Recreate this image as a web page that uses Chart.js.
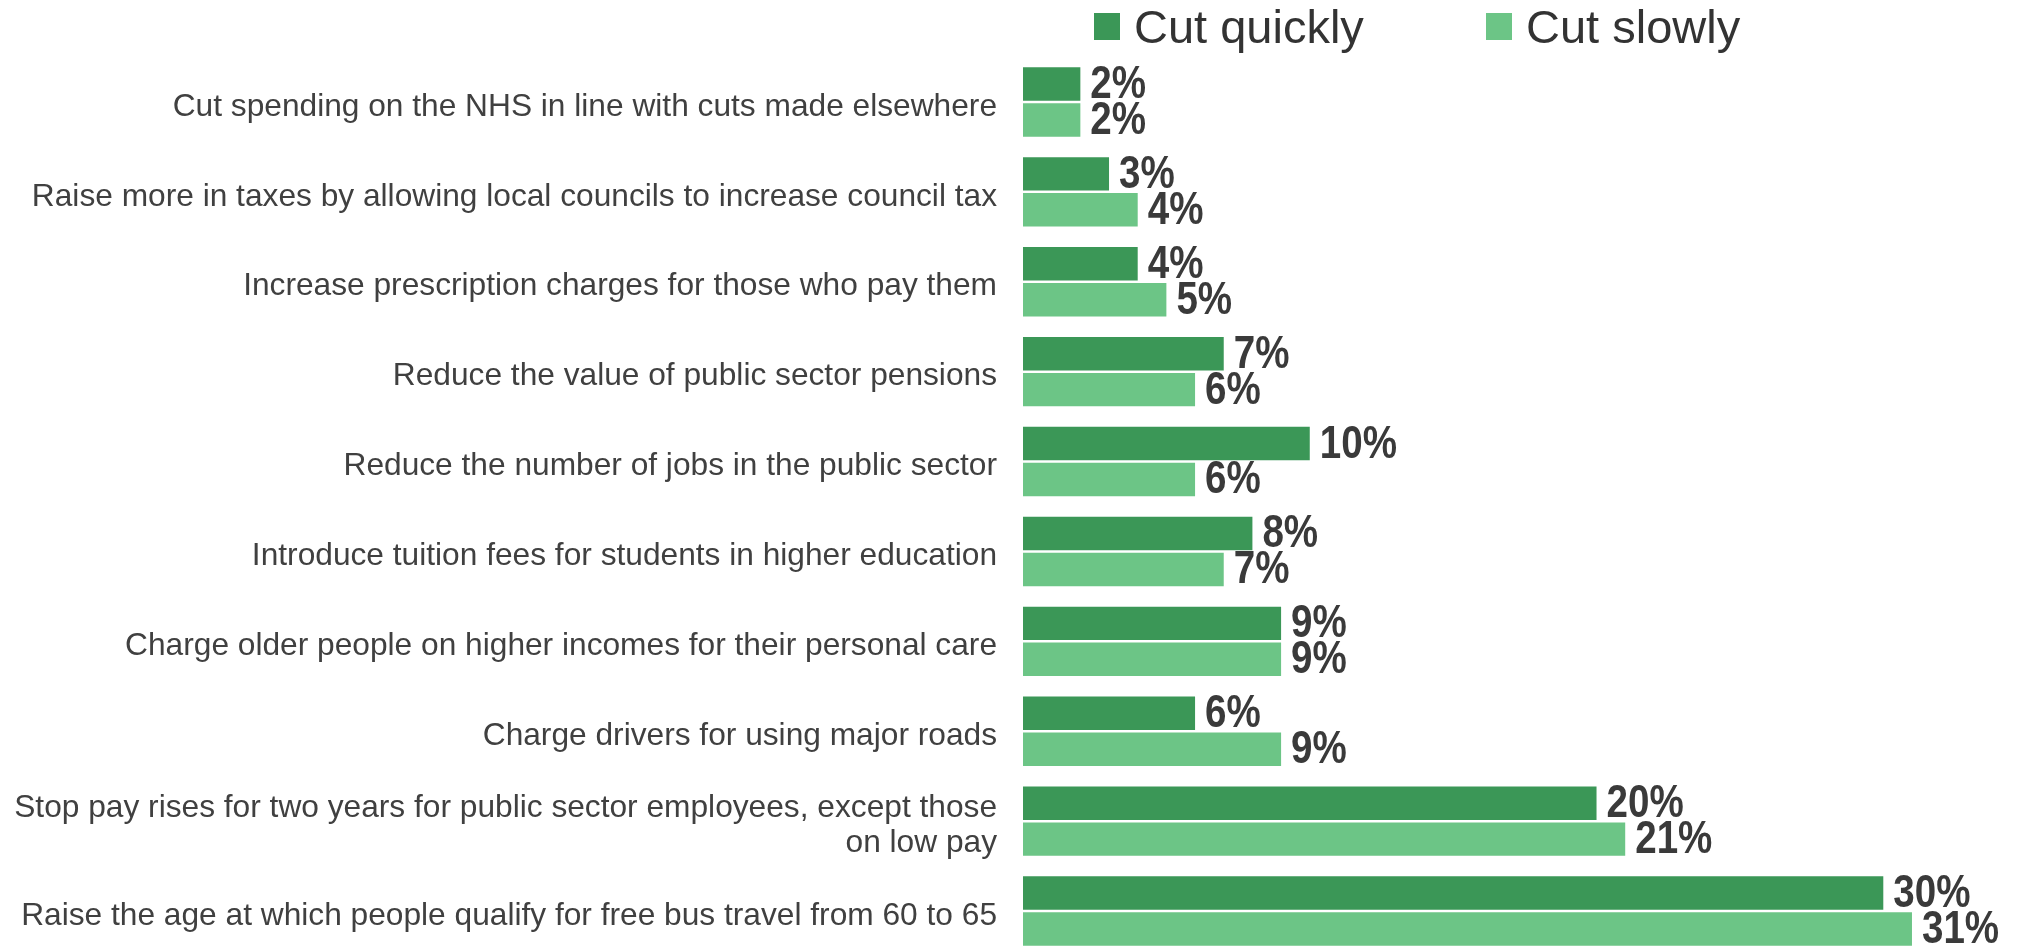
<!DOCTYPE html>
<html>
<head>
<meta charset="utf-8">
<script src="https://cdn.jsdelivr.net/npm/chart.js@4/dist/chart.umd.min.js"></script>
<style>
  html, body { margin: 0; padding: 0; background: #ffffff; overflow: hidden; }
  #wrap { width: 2022px; height: 956px; }
</style>
</head>
<body>
<div id="wrap"><canvas id="c" width="2022" height="956"></canvas></div>
<script>
// ---- data ----
const categories = [
  "Cut spending on the NHS in line with cuts made elsewhere",
  "Raise more in taxes by allowing local councils to increase council tax",
  "Increase prescription charges for those who pay them",
  "Reduce the value of public sector pensions",
  "Reduce the number of jobs in the public sector",
  "Introduce tuition fees for students in higher education",
  "Charge older people on higher incomes for their personal care",
  "Charge drivers for using major roads",
  ["Stop pay rises for two years for public sector employees, except those", "on low pay"],
  "Raise the age at which people qualify for free bus travel from 60 to 65"
];
const seriesNames = ["Cut quickly", "Cut slowly"];
const cutQuickly = [2, 3, 4, 7, 10, 8, 9, 6, 20, 30];
const cutSlowly  = [2, 4, 5, 6, 6, 7, 9, 9, 21, 31];

const colQuick = "#3b9757";
const colSlow  = "#6cc586";
const textCol  = "#3a3a3a";

// detect narrow font
function hasFont(name) {
  const c = document.createElement("canvas").getContext("2d");
  c.font = "bold 40px monospace";
  const a = c.measureText("10%abcdefg").width;
  c.font = 'bold 40px "' + name + '", monospace';
  const b = c.measureText("10%abcdefg").width;
  return Math.abs(a - b) > 0.5;
}
const narrowOK = hasFont("Liberation Sans Narrow");

const valueLabels = {
  id: "valueLabels",
  afterDatasetsDraw(chart) {
    const ctx = chart.ctx;
    ctx.save();
    ctx.fillStyle = textCol;
    ctx.textBaseline = "middle";
    ctx.textAlign = "left";
    chart.data.datasets.forEach((ds, di) => {
      const meta = chart.getDatasetMeta(di);
      meta.data.forEach((bar, i) => {
        const txt = ds.data[i] + "%";
        const x = bar.x + 10;
        const y = bar.y + 1;
        if (narrowOK) {
          ctx.font = 'bold 47px "Liberation Sans Narrow"';
          ctx.fillText(txt, x, y);
        } else {
          ctx.save();
          ctx.font = 'bold 47px "Liberation Sans", Arial, sans-serif';
          ctx.translate(x, y);
          ctx.scale(0.82, 1);
          ctx.fillText(txt, 0, 0);
          ctx.restore();
        }
      });
    });
    ctx.restore();
  }
};

const customLegend = {
  id: "customLegend",
  afterDraw(chart) {
    const ctx = chart.ctx;
    const items = [
      { name: seriesNames[0], color: colQuick, bx: 1094, tx: 1134 },
      { name: seriesNames[1], color: colSlow,  bx: 1486, tx: 1526 }
    ];
    ctx.save();
    ctx.font = '47px "Liberation Sans", Arial, sans-serif';
    ctx.textBaseline = "alphabetic";
    ctx.textAlign = "left";
    items.forEach(it => {
      ctx.fillStyle = it.color;
      ctx.fillRect(it.bx, 13, 26, 27);
      ctx.fillStyle = "#333333";
      ctx.fillText(it.name, it.tx, 43);
    });
    ctx.restore();
  }
};

new Chart(document.getElementById("c"), {
  type: "bar",
  data: {
    labels: categories,
    datasets: [
      { label: seriesNames[0], data: cutQuickly, backgroundColor: colQuick,
        categoryPercentage: 0.8, barPercentage: 0.93 },
      { label: seriesNames[1], data: cutSlowly, backgroundColor: colSlow,
        categoryPercentage: 0.8, barPercentage: 0.93 }
    ]
  },
  options: {
    indexAxis: "y",
    responsive: false,
    animation: false,
    layout: { padding: { top: 57, bottom: 0, left: 0, right: 24 } },
    plugins: {
      legend: { display: false },
      tooltip: { enabled: false }
    },
    scales: {
      x: {
        display: false,
        min: 0,
        max: 34
      },
      y: {
        grid: { display: false, drawTicks: false },
        border: { display: false },
        ticks: {
          padding: 26,
          labelOffset: 5,
          color: "#404040",
          font: { family: '"Liberation Sans", Arial, sans-serif', size: 31.7, lineHeight: 1.1 },
          autoSkip: false
        },
        afterFit(scale) {
          scale.width = 1023;
          scale.paddingTop = 0;
          scale.paddingBottom = 0;
        }
      }
    }
  },
  plugins: [valueLabels, customLegend]
});
</script>
</body>
</html>
